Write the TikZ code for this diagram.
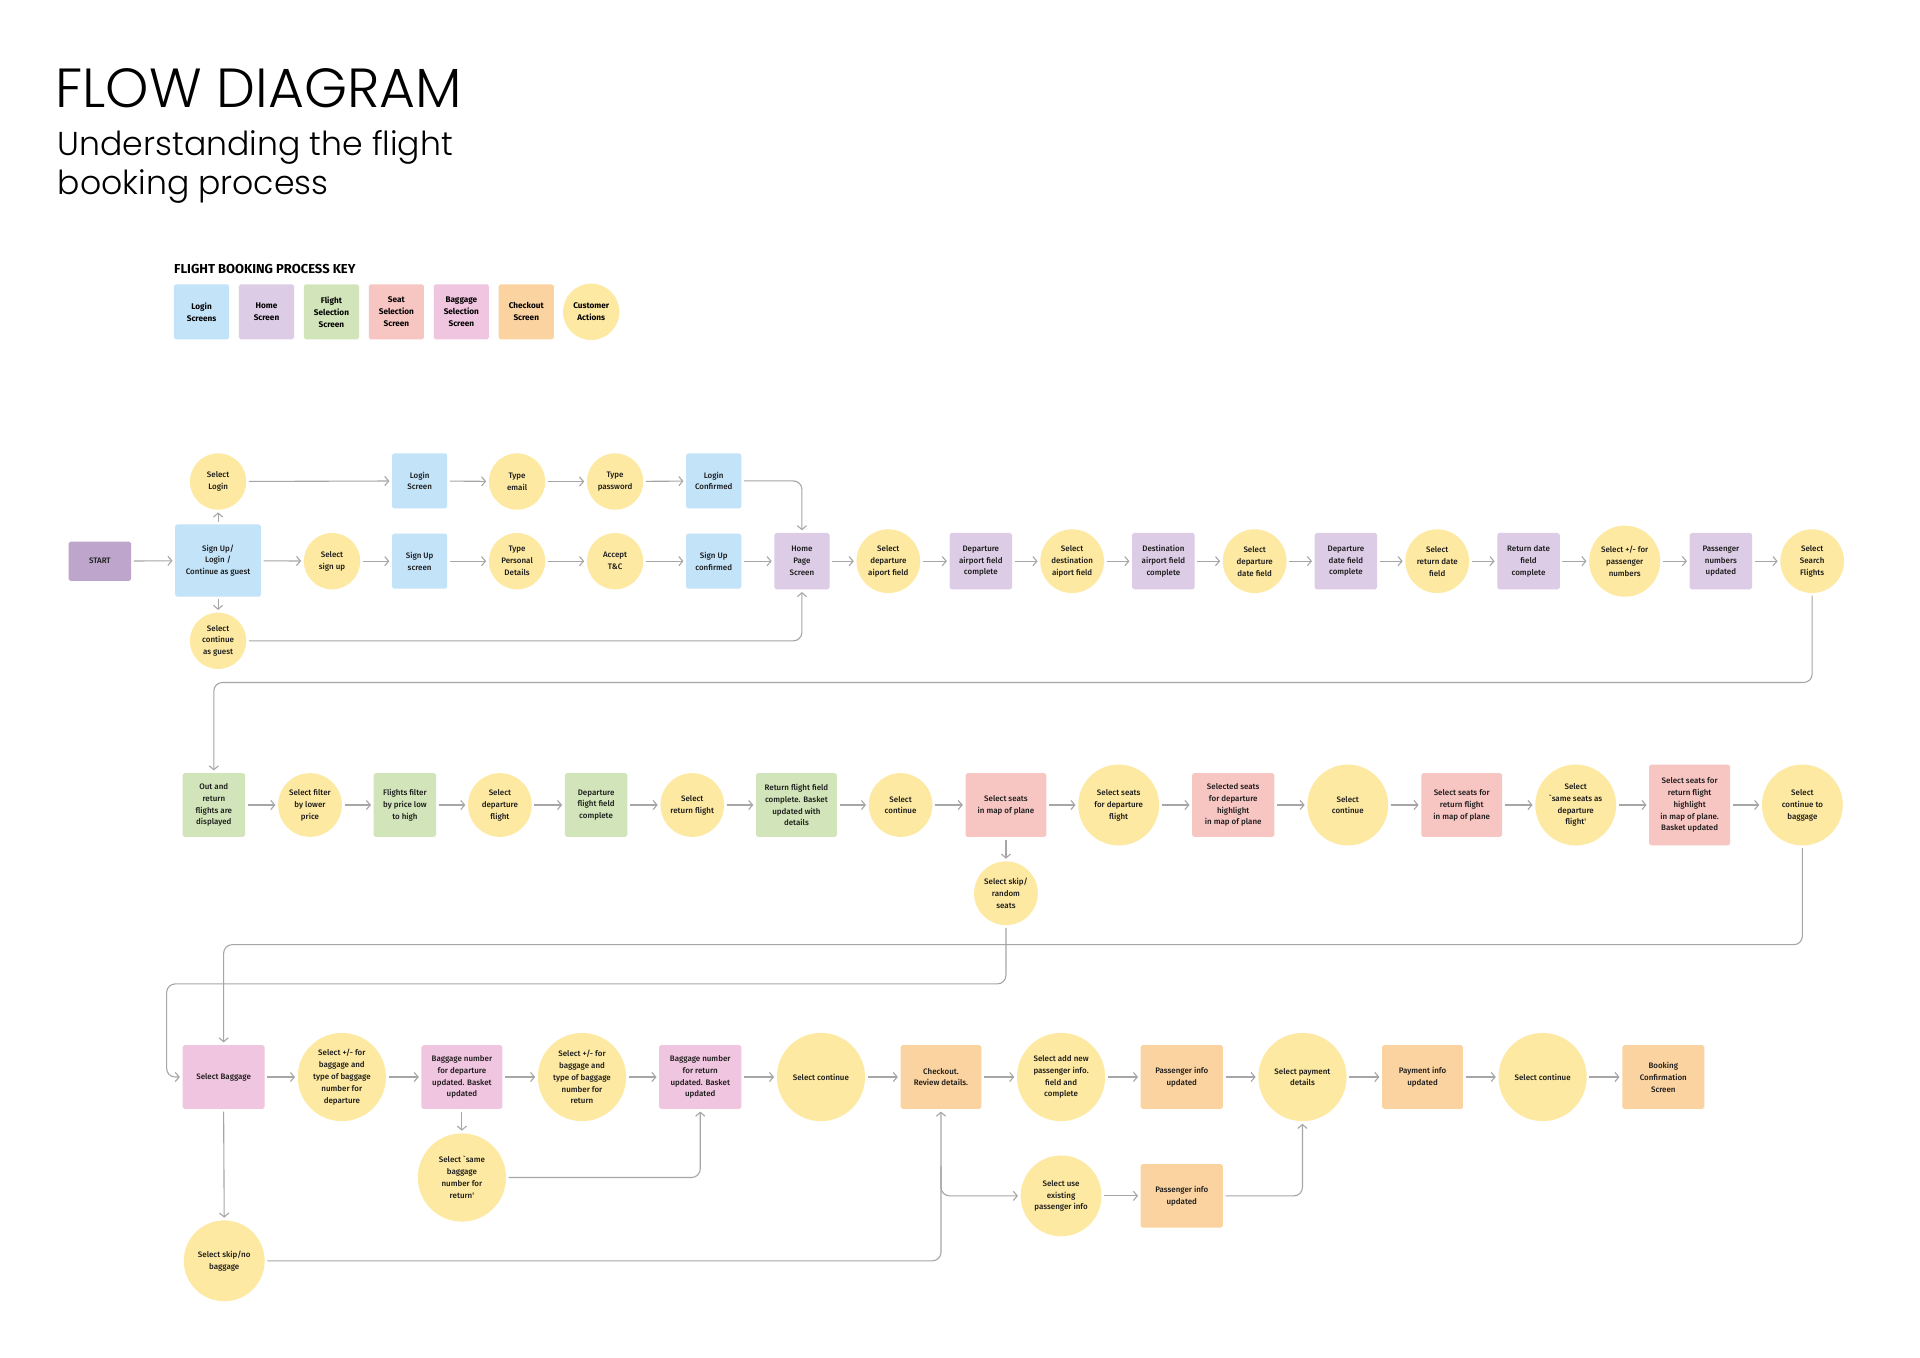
\documentclass[tikz,border=0pt]{standalone}
\usepackage{fontspec}
\usetikzlibrary{arrows.meta,calc}
\setmainfont{Fira Sans}
\IfFontExistsTF{Poppins Light}{\newfontfamily\titlefont{Poppins Light}}{\newfontfamily\titlefont{Poppins}}
\IfFontExistsTF{Fira Sans Medium}{\newfontfamily\nodefont{Fira Sans Medium}}{\newfontfamily\nodefont{Fira Sans}}
\newfontfamily\keyfont{Fira Sans}
\definecolor{loginc}{HTML}{C3E3F8}
\definecolor{homec}{HTML}{DCCCE6}
\definecolor{flightc}{HTML}{D2E5BA}
\definecolor{seatc}{HTML}{F7C6C3}
\definecolor{bagc}{HTML}{F0C5DF}
\definecolor{checkc}{HTML}{FBD3A1}
\definecolor{custc}{HTML}{FDE9A2}
\definecolor{startc}{HTML}{BDA5CB}
\definecolor{linec}{HTML}{A6A6A6}
\tikzset{
  lbl/.style={font=\nodefont\fontsize{6.5}{9.7}\selectfont, align=center, text=black!90},
  boxn/.style={lbl, rectangle, rounded corners=1.5pt, inner sep=0pt, minimum width=#1},
  boxn/.default=51,
  bh/.style={minimum height=#1},
  circn/.style={lbl, circle, inner sep=0pt, fill=custc, minimum size=#1},
  arr/.style={draw=linec, line width=0.9pt, -{Straight Barb[length=3.2pt,width=7.5pt]}, shorten >=2pt, shorten <=2pt},
  bendarr/.style={arr, rounded corners=7pt},
  keyb/.style={font=\keyfont\bfseries\fontsize{6.7}{9.8}\selectfont, align=center, rectangle, rounded corners=1.5pt, minimum width=45, minimum height=45, inner sep=0pt},
}
\begin{document}
\begin{tikzpicture}[x=1pt,y=-1pt]
\useasboundingbox (0,0) rectangle (1567,1108);
\fill[white] (0,0) rectangle (1567,1108);
% titles
\node[anchor=base west, inner sep=0pt, font=\titlefont\fontsize{45}{50}\selectfont] (title) at (45,88) {FLOW DIAGRAM};
\node[anchor=north west, inner sep=0pt, align=left, font=\titlefont\fontsize{27}{32}\selectfont] (subtitle) at (47,106) {Understanding the flight\\booking process};
% key
\node[anchor=base west, inner sep=0pt, font=\keyfont\bfseries\fontsize{10.6}{12}\selectfont] (keytitle) at (142,223) {FLIGHT BOOKING PROCESS KEY};
\node[keyb, fill=loginc] (k1) at (164.5,254.5) {Login\\Screens};
\node[keyb, fill=homec] (k2) at (217.5,254.5) {Home\\Screen};
\node[keyb, fill=flightc] (k3) at (270.5,254.5) {Flight\\Selection\\Screen};
\node[keyb, fill=seatc] (k4) at (323.5,254.5) {Seat\\Selection\\Screen};
\node[keyb, fill=bagc] (k5) at (376.5,254.5) {Baggage\\Selection\\Screen};
\node[keyb, fill=checkc] (k6) at (429.5,254.5) {Checkout\\Screen};
\node[keyb, circle, minimum size=46, fill=custc] (k7) at (482.5,254.5) {Customer\\Actions};

% ===== row 1 =====
\node[boxn=51, bh=32, fill=startc] (start) at (81.5,458) {START};
\node[boxn=70, bh=59, fill=loginc] (signup) at (178,457.5) {Sign Up/\\Login /\\Continue as guest};
\node[circn=46] (sellogin) at (178,393) {Select\\Login};
\node[boxn=45, bh=45, fill=loginc] (loginscr) at (342.5,392.5) {Login\\Screen};
\node[circn=46] (typeemail) at (422,393) {Type\\email};
\node[circn=46] (typepw) at (502,393) {Type\\password};
\node[boxn=45, bh=45, fill=loginc] (loginconf) at (582.5,392.5) {Login\\Confirmed};
\node[circn=46] (selsignup) at (271,458) {Select\\sign up};
\node[boxn=45, bh=45, fill=loginc] (signupscr) at (342.5,458) {Sign Up\\screen};
\node[circn=46] (typepers) at (422,458) {Type\\Personal\\Details};
\node[circn=46] (accept) at (502,458) {Accept\\T\&C};
\node[boxn=45, bh=45, fill=loginc] (signupconf) at (582.5,458) {Sign Up\\confirmed};
\node[circn=46] (guest) at (178,523) {Select\\continue\\as guest};
\node[boxn=45, bh=46, fill=homec] (home) at (654.5,458) {Home\\Page\\Screen};
\node[circn=52] (seldep) at (725,458) {Select\\departure\\aiport field};
\node[boxn=51, bh=46, fill=homec] (depc) at (800.5,458) {Departure\\airport field\\complete};
\node[circn=52] (seldest) at (875,458) {Select\\destination\\aiport field};
\node[boxn=51, bh=46, fill=homec] (destc) at (949.5,458) {Destination\\airport field\\complete};
\node[circn=52] (seldd) at (1024,458) {Select\\departure\\date field};
\node[boxn=51, bh=46, fill=homec] (ddc) at (1098.5,458) {Departure\\date field\\complete};
\node[circn=52] (selrd) at (1173,458) {Select\\return date\\field};
\node[boxn=51, bh=46, fill=homec] (rdc) at (1247.5,458) {Return date\\field\\complete};
\node[circn=58] (selpass) at (1326,458) {Select +/- for\\passenger\\numbers};
\node[boxn=51, bh=46, fill=homec] (passupd) at (1404.5,458) {Passenger\\numbers\\updated};
\node[circn=52] (search) at (1479,458) {Select\\Search\\Flights};

% ===== row 2 =====
\node[boxn=51, bh=52, fill=flightc] (out) at (174.5,657) {Out and\\return\\flights are\\displayed};
\node[circn=52] (filt) at (253,657) {Select filter\\by lower\\price};
\node[boxn=51, bh=52, fill=flightc] (flow) at (330.5,657) {Flights filter\\by price low\\to high};
\node[circn=52] (seldepf) at (408,657) {Select\\departure\\flight};
\node[boxn=51, bh=52, fill=flightc] (depff) at (486.5,657) {Departure\\flight field\\complete};
\node[circn=52] (selretf) at (565,657) {Select\\return flight};
\node[boxn=66, bh=52, fill=flightc] (retff) at (650,657) {Return flight field\\complete. Basket\\updated with\\details};
\node[circn=52] (cont1) at (735,657) {Select\\continue};
\node[boxn=66, bh=52, fill=seatc] (seatmap) at (821,657) {Select seats\\in map of plane};
\node[circn=52] (skipseat) at (821,729) {Select skip/\\random\\seats};
\node[circn=66] (seatdep) at (913,657) {Select seats\\for departure\\flight};
\node[boxn=67, bh=52, fill=seatc] (seldephl) at (1006.5,657) {Selected seats\\for departure\\highlight\\in map of plane};
\node[circn=66] (cont2) at (1100,657) {Select\\continue};
\node[boxn=66, bh=52, fill=seatc] (seatret) at (1193,657) {Select seats for\\return flight\\in map of plane};
\node[circn=66] (same) at (1286,657) {Select\\`same seats as\\departure\\flight'};
\node[boxn=66, bh=66, fill=seatc] (rethl) at (1379,657) {Select seats for\\return flight\\highlight\\in map of plane.\\Basket updated};
\node[circn=66] (contbag) at (1471,657) {Select\\continue to\\baggage};

% ===== row 3 =====
\node[boxn=67, bh=52, fill=bagc] (bag) at (182.5,879) {Select Baggage};
\node[circn=72] (bagdep) at (279,879) {Select +/- for\\baggage and\\type of baggage\\number for\\departure};
\node[boxn=66, bh=52, fill=bagc] (bagdepu) at (377,879) {Baggage number\\for departure\\updated. Basket\\updated};
\node[circn=72] (bagret) at (475,879) {Select +/- for\\baggage and\\type of baggage\\number for\\return};
\node[boxn=67, bh=52, fill=bagc] (bagretu) at (571.5,879) {Baggage number\\for return\\updated. Basket\\updated};
\node[circn=72] (cont3) at (670,879) {Select continue};
\node[boxn=66, bh=52, fill=checkc] (checkout) at (768,879) {Checkout.\\Review details.};
\node[circn=72] (addnew) at (866,879) {Select add new\\passenger info.\\field and\\complete};
\node[boxn=67, bh=52, fill=checkc] (pinfo1) at (964.5,879) {Passenger info\\updated};
\node[circn=72] (pay) at (1063,879) {Select payment\\details};
\node[boxn=66, bh=52, fill=checkc] (payu) at (1161,879) {Payment info\\updated};
\node[circn=72] (cont4) at (1259,879) {Select continue};
\node[boxn=67, bh=52, fill=checkc] (booking) at (1357.5,879) {Booking\\Confirmation\\Screen};
\node[circn=72] (samebag) at (377,961) {Select `same\\baggage\\number for\\return'};
\node[circn=66] (skipbag) at (183,1029) {Select skip/no\\baggage};
\node[circn=66] (existing) at (866,976) {Select use\\existing\\passenger info};
\node[boxn=67, bh=52, fill=checkc] (pinfo2) at (964.5,976) {Passenger info\\updated};

% ===== connectors =====
\draw[arr] (start) -- (signup);
\draw[arr] (signup.north) -- (sellogin.south);
\draw[arr] (signup.south) -- (guest.north);
\draw[arr] (sellogin) -- (loginscr);
\draw[arr] (loginscr) -- (typeemail);
\draw[arr] (typeemail) -- (typepw);
\draw[arr] (typepw) -- (loginconf);
\draw[bendarr] (loginconf.east) -| (home.north);
\draw[arr] (signup) -- (selsignup);
\draw[arr] (selsignup) -- (signupscr);
\draw[arr] (signupscr) -- (typepers);
\draw[arr] (typepers) -- (accept);
\draw[arr] (accept) -- (signupconf);
\draw[arr] (signupconf) -- (home);
\draw[bendarr] (guest.east) -| (home.south);
\draw[arr] (home) -- (seldep);
\draw[arr] (seldep) -- (depc);
\draw[arr] (depc) -- (seldest);
\draw[arr] (seldest) -- (destc);
\draw[arr] (destc) -- (seldd);
\draw[arr] (seldd) -- (ddc);
\draw[arr] (ddc) -- (selrd);
\draw[arr] (selrd) -- (rdc);
\draw[arr] (rdc) -- (selpass);
\draw[arr] (selpass) -- (passupd);
\draw[arr] (passupd) -- (search);
\draw[bendarr] (search.south) -- (search.south |- 0,557) -| (out.north);

\draw[arr] (out) -- (filt);
\draw[arr] (filt) -- (flow);
\draw[arr] (flow) -- (seldepf);
\draw[arr] (seldepf) -- (depff);
\draw[arr] (depff) -- (selretf);
\draw[arr] (selretf) -- (retff);
\draw[arr] (retff) -- (cont1);
\draw[arr] (cont1) -- (seatmap);
\draw[arr] (seatmap) -- (seatdep);
\draw[arr] (seatdep) -- (seldephl);
\draw[arr] (seldephl) -- (cont2);
\draw[arr] (cont2) -- (seatret);
\draw[arr] (seatret) -- (same);
\draw[arr] (same) -- (rethl);
\draw[arr] (rethl) -- (contbag);
\draw[arr] (seatmap.south) -- (skipseat.north);
\draw[bendarr] (skipseat.south) -- (skipseat.south |- 0,803) -- (136,803) -- (136,879) -- (bag.west);
\draw[bendarr] (contbag.south) -- (contbag.south |- 0,771) -| (bag.north);

\draw[arr] (bag) -- (bagdep);
\draw[arr] (bagdep) -- (bagdepu);
\draw[arr] (bagdepu) -- (bagret);
\draw[arr] (bagret) -- (bagretu);
\draw[arr] (bagretu) -- (cont3);
\draw[arr] (cont3) -- (checkout);
\draw[arr] (checkout) -- (addnew);
\draw[arr] (addnew) -- (pinfo1);
\draw[arr] (pinfo1) -- (pay);
\draw[arr] (pay) -- (payu);
\draw[arr] (payu) -- (cont4);
\draw[arr] (cont4) -- (booking);
\draw[arr] (bagdepu.south) -- (samebag.north);
\draw[bendarr] (samebag.east) -| (bagretu.south);
\draw[arr] (bag.south) -- (skipbag.north);
\draw[bendarr] (skipbag.east) -| (checkout.south);
\coordinate (brk) at (768,950);
\draw[bendarr] (brk) |- (existing.west);
\draw[arr] (existing) -- (pinfo2);
\draw[bendarr] (pinfo2.east) -| (pay.south);
\end{tikzpicture}
\end{document}
